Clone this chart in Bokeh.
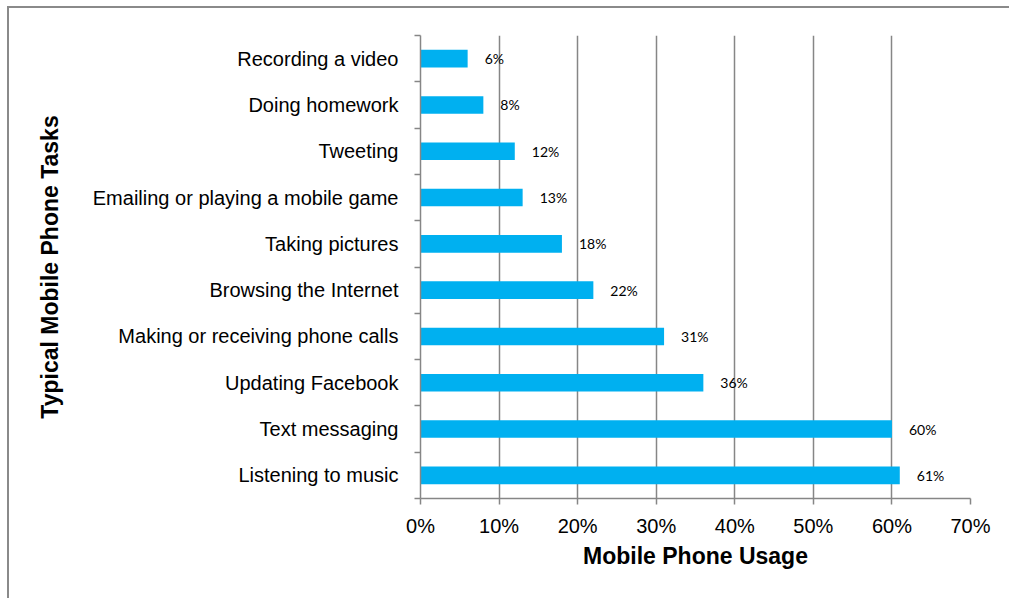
from bokeh.plotting import figure
from bokeh.models import FixedTicker, PrintfTickFormatter, ColumnDataSource
from bokeh.core.properties import value
from bokeh.embed import file_html
from bokeh.resources import INLINE

# Data (bottom to top)
tasks = [
    "Listening to music",
    "Text messaging",
    "Updating Facebook",
    "Making or receiving phone calls",
    "Browsing the Internet",
    "Taking pictures",
    "Emailing or playing a mobile game",
    "Tweeting",
    "Doing homework",
    "Recording a video",
]
usage = [61, 60, 36, 31, 22, 18, 13, 12, 8, 6]
x_ticks = [0, 10, 20, 30, 40, 50, 60, 70]

idx = list(range(len(tasks)))
src = ColumnDataSource(dict(
    y=idx,
    v=usage,
    lab=[f"{u}%" for u in usage],
))

GRAY = "#868686"
FRAME = "#8a8a8a"

p = figure(
    width=1009, height=598,
    x_range=(0, 70), y_range=(-0.5, len(tasks) - 0.5),
    output_backend="svg", toolbar_location=None,
    min_border_left=420, min_border_right=39,
    min_border_top=35, min_border_bottom=100,
    styles={
        "background-color": "white",
        "background-image": f"linear-gradient({FRAME},{FRAME}), linear-gradient({FRAME},{FRAME})",
        "background-size": "2px 100%, 100% 2px",
        "background-position": "7px 6px, 7px 6px",
        "background-repeat": "no-repeat",
    },
)
p.outline_line_color = None
p.background_fill_color = "white"
p.border_fill_color = None
p.border_fill_alpha = 0

p.hbar(y="y", right="v", left=0, height=0.38, source=src,
       fill_color="#00B0F0", line_color=None)

p.text(x="v", y="y", text="lab", source=src, x_offset=17,
       text_align="left", text_baseline="middle",
       text_font=value("Lato"), text_font_size="14px", text_color="#000000")

# X axis
xa = p.xaxis[0]
xa.ticker = FixedTicker(ticks=x_ticks)
xa.formatter = PrintfTickFormatter(format="%d%%")
xa.axis_line_color = GRAY
xa.axis_line_width = 1.5
xa.major_tick_line_color = GRAY
xa.major_tick_line_width = 1.5
xa.major_tick_out = 6
xa.major_tick_in = 0
xa.minor_tick_line_color = None
xa.major_label_text_font = "Liberation Sans"
xa.major_label_text_font_size = "20px"
xa.major_label_text_color = "#000000"
xa.major_label_standoff = 10
xa.axis_label = "Mobile Phone Usage"
xa.axis_label_text_font = "Liberation Sans"
xa.axis_label_text_font_style = "bold"
xa.axis_label_text_font_size = "23px"
xa.axis_label_text_color = "#000000"
xa.axis_label_standoff = 3

# Y axis
ya = p.yaxis[0]
ya.ticker = FixedTicker(ticks=idx, minor_ticks=[i - 0.5 for i in range(len(tasks) + 1)])
ya.major_label_overrides = {i: t for i, t in zip(idx, tasks)}
ya.axis_line_color = GRAY
ya.axis_line_width = 1.5
ya.major_tick_line_color = None
ya.major_tick_out = 0
ya.major_tick_in = 0
ya.minor_tick_line_color = GRAY
ya.minor_tick_line_width = 1.5
ya.minor_tick_out = 6
ya.minor_tick_in = 0
ya.major_label_text_font = "Liberation Sans"
ya.major_label_text_font_size = "20px"
ya.major_label_text_color = "#000000"
ya.major_label_standoff = 16
ya.axis_label = "Typical Mobile Phone Tasks"
ya.axis_label_text_font = "Liberation Sans"
ya.axis_label_text_font_style = "bold"
ya.axis_label_text_font_size = "23px"
ya.axis_label_text_color = "#000000"
ya.axis_label_standoff = 27

p.xgrid.ticker = FixedTicker(ticks=x_ticks)
p.xgrid.grid_line_color = GRAY
p.xgrid.grid_line_width = 1.5
p.ygrid.grid_line_color = None

open("out.html", "w").write(file_html(p, INLINE))
